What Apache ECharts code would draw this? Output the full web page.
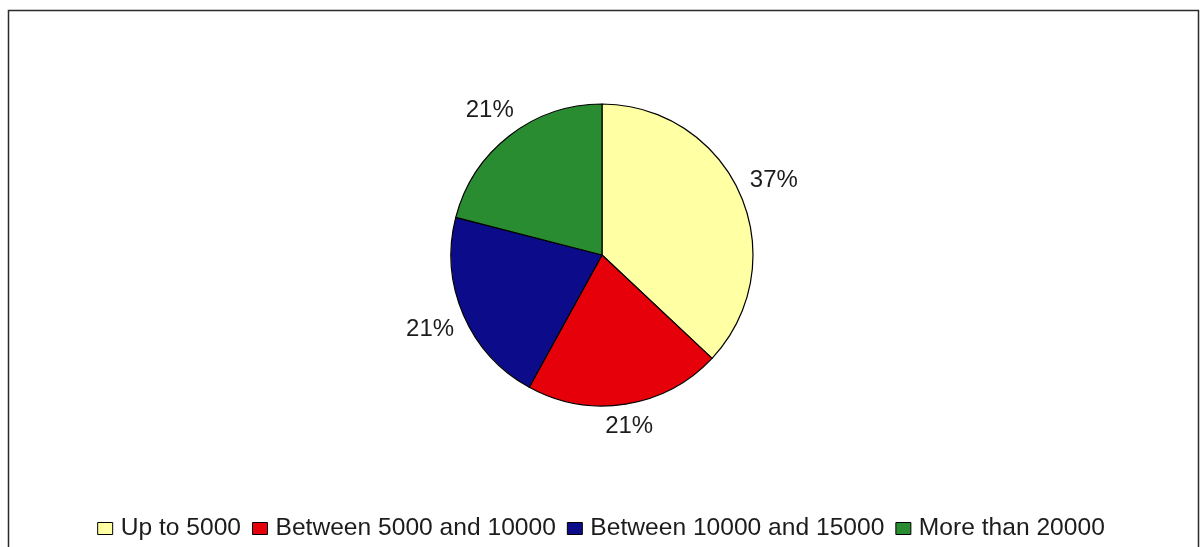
<!DOCTYPE html>
<html>
<head>
<meta charset="utf-8">
<title>Pie chart</title>
<script src="https://cdn.jsdelivr.net/npm/echarts@6/dist/echarts.min.js"></script>
<style>
  html, body { margin: 0; padding: 0; background: #ffffff; }
  #chart { width: 1202px; height: 547px; }
</style>
</head>
<body>
<div id="chart"></div>
<script>
// Share of each range, in percent
const categories = ['Up to 5000', 'Between 5000 and 10000', 'Between 10000 and 15000', 'More than 20000'];
const shares = [37, 21, 21, 21];
const sliceColors = ['#FFFFA3', '#E6000A', '#0C0C8A', '#2A8C30'];

const FONT = '"Liberation Sans", Arial, Helvetica, sans-serif';
const CX = 602, CY = 255, R = 151;   // pie geometry in pixels
const LABEL_GAP = 11;                // space between rim and label box

// Mid-angle of every slice, clockwise from 12 o'clock (radians)
const total = shares.reduce((a, b) => a + b, 0);
const midAngles = [];
let acc = 0;
shares.forEach(v => {
  midAngles.push(((acc + v / 2) / total) * Math.PI * 2);
  acc += v;
});

const chart = echarts.init(document.getElementById('chart'), null, { renderer: 'canvas' });

chart.setOption({
  animation: false,
  backgroundColor: '#ffffff',
  textStyle: { fontFamily: FONT },
  graphic: [{
    type: 'rect',
    left: 6, top: 8,
    shape: { width: 1190, height: 600 },
    style: { fill: 'none', stroke: '#2b2b2b', lineWidth: 1.5 },
    silent: true
  }],
  legend: {
    left: 'center',
    top: 511,
    icon: 'rect',
    itemWidth: 15,
    itemHeight: 12,
    itemGap: 11,
    textStyle: { fontSize: 24.6, color: '#1c1c1c', fontFamily: FONT, padding: [0, 0, 0, 3] },
    itemStyle: { borderColor: '#000', borderWidth: 1 },
    data: categories
  },
  series: [{
    type: 'pie',
    center: [CX, CY],
    radius: R,
    startAngle: 90,
    clockwise: true,
    avoidLabelOverlap: false,
    itemStyle: { borderColor: '#000', borderWidth: 1.2 },
    label: {
      show: true,
      position: 'outside',
      formatter: p => p.value + '%',
      fontSize: 24,
      color: '#1c1c1c',
      fontFamily: FONT
    },
    labelLine: { show: false },
    labelLayout: function (params) {
      const a = midAngles[params.dataIndex];
      const dx = Math.sin(a), dy = -Math.cos(a);
      const w = params.labelRect.width, h = params.labelRect.height * 0.68;
      const d = R + LABEL_GAP + Math.abs(dx) * w / 2 + Math.abs(dy) * h / 2;
      return { x: CX + dx * d, y: CY + dy * d, align: 'center', verticalAlign: 'middle' };
    },
    emphasis: { disabled: true },
    data: categories.map((name, i) => ({
      name: name,
      value: shares[i],
      itemStyle: { color: sliceColors[i] }
    }))
  }]
});
</script>
</body>
</html>
